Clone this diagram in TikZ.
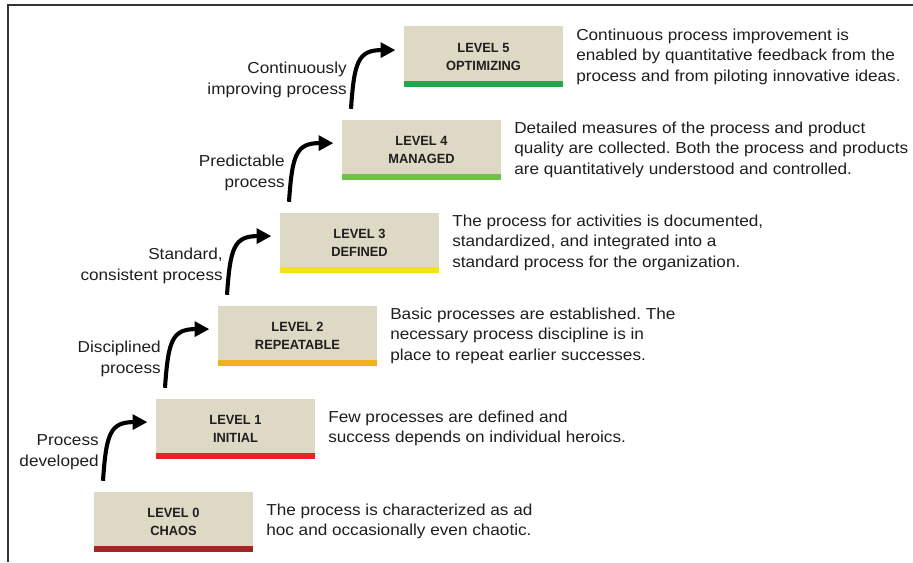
\documentclass[tikz,border=0pt]{standalone}
\usepackage{fontspec}
\setmainfont{Liberation Sans}[FakeStretch=1.08]
\newfontfamily\lvlfont{Liberation Sans}[FakeStretch=0.96]
\usetikzlibrary{positioning,arrows.meta}
\frenchspacing

\definecolor{boxfill}{RGB}{221,217,196}
\definecolor{ink}{RGB}{30,30,30}
\definecolor{bar0}{RGB}{166,36,40}
\definecolor{bar1}{RGB}{232,34,40}
\definecolor{bar2}{RGB}{242,176,30}
\definecolor{bar3}{RGB}{242,228,20}
\definecolor{bar4}{RGB}{110,194,72}
\definecolor{bar5}{RGB}{34,168,74}

\tikzset{
	level/.style={fill=boxfill, minimum width=3.95cm, minimum height=1.5cm, inner sep=0pt,
		align=center, text=ink, font=\lvlfont\bfseries\fontsize{9.5}{12.8}\selectfont},
	desc/.style={align=left, inner sep=0pt, text=ink, font=\fontsize{11.3}{14.6}\selectfont},
	lbl/.style={align=right, inner sep=0pt, text=ink, font=\fontsize{11.3}{14.6}\selectfont},
	climb/.style={line width=2.9pt, -{Triangle[length=10.5pt,width=10.5pt]}, shorten >=0.22cm},
}

\begin{document}
\begin{tikzpicture}[x=0.025cm,y=-0.025cm]
		\useasboundingbox (0,0) rectangle (913,562);
		\draw[line width=1.4pt, black!80] (8,562) -- (8,5) -- (913,5);

		\node[level] (l0) at (173.5,521.5) {LEVEL 0\\CHAOS};
		\node[level] (l1) at (235.5,428.5) {LEVEL 1\\INITIAL};
		\node[level] (l2) at (297.5,335.5) {LEVEL 2\\REPEATABLE};
		\node[level] (l3) at (359.5,242.5) {LEVEL 3\\DEFINED};
		\node[level] (l4) at (421.5,149.5) {LEVEL 4\\MANAGED};
		\node[level] (l5) at (483.5,56.5) {LEVEL 5\\OPTIMIZING};

		\fill[bar0] (l0.south west) rectangle ([yshift=0.15cm]l0.south east);
		\fill[bar1] (l1.south west) rectangle ([yshift=0.15cm]l1.south east);
		\fill[bar2] (l2.south west) rectangle ([yshift=0.15cm]l2.south east);
		\fill[bar3] (l3.south west) rectangle ([yshift=0.15cm]l3.south east);
		\fill[bar4] (l4.south west) rectangle ([yshift=0.15cm]l4.south east);
		\fill[bar5] (l5.south west) rectangle ([yshift=0.15cm]l5.south east);

		\node[desc, right=0.33cm of l0] (d0) {The process is characterized as ad\\hoc and occasionally even chaotic.};
		\node[desc, right=0.33cm of l1] (d1) {Few processes are defined and\\success depends on individual heroics.};
		\node[desc, right=0.33cm of l2] (d2) {Basic processes are established. The\\necessary process discipline is in\\place to repeat earlier successes.};
		\node[desc, right=0.33cm of l3] (d3) {The process for activities is documented,\\standardized, and integrated into a\\standard process for the organization.};
		\node[desc, right=0.33cm of l4] (d4) {Detailed measures of the process and product\\quality are collected. Both the process and products\\are quantitatively understood and controlled.};
		\node[desc, right=0.33cm of l5] (d5) {Continuous process improvement is\\enabled by quantitative feedback from the\\process and from piloting innovative ideas.};

		\coordinate (t1) at ([xshift=-1.33cm,yshift=-0.55cm]l1.south west);
		\coordinate (t2) at ([xshift=-1.33cm,yshift=-0.55cm]l2.south west);
		\coordinate (t3) at ([xshift=-1.33cm,yshift=-0.55cm]l3.south west);
		\coordinate (t4) at ([xshift=-1.33cm,yshift=-0.55cm]l4.south west);
		\coordinate (t5) at ([xshift=-1.33cm,yshift=-0.55cm]l5.south west);

		\draw[climb] (t1) to[out=86,in=180,looseness=1.5] ([yshift=0.16cm]l1.west);
		\draw[climb] (t2) to[out=86,in=180,looseness=1.5] ([yshift=0.16cm]l2.west);
		\draw[climb] (t3) to[out=86,in=180,looseness=1.5] ([yshift=0.16cm]l3.west);
		\draw[climb] (t4) to[out=86,in=180,looseness=1.5] ([yshift=0.16cm]l4.west);
		\draw[climb] (t5) to[out=86,in=180,looseness=1.5] ([yshift=0.16cm]l5.west);

		\node[lbl, left=0.1cm of t1, yshift=0.72cm] (p1) {Process\\developed};
		\node[lbl, left=0.1cm of t2, yshift=0.72cm] (p2) {Disciplined\\process};
		\node[lbl, left=0.1cm of t3, yshift=0.72cm] (p3) {Standard,\\consistent process};
		\node[lbl, left=0.1cm of t4, yshift=0.72cm] (p4) {Predictable\\process};
		\node[lbl, left=0.1cm of t5, yshift=0.72cm] (p5) {Continuously\\improving process};
	\end{tikzpicture}
\end{document}
